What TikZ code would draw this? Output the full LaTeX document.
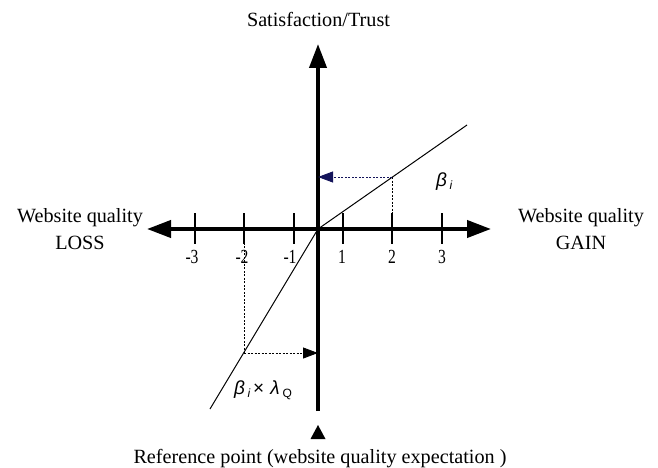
\documentclass[tikz,border=0pt]{standalone}
\usepackage{fontspec}
\setmainfont{Liberation Serif}
\newfontfamily\condfont[FakeStretch=0.78]{Liberation Serif}
\newfontfamily\grkfont{Liberation Sans}
\usetikzlibrary{arrows.meta}
\tikzset{
  axis/.style={line width=4pt},
  bigtip/.style={-{Triangle[length=24pt,width=17pt]}},
  tick/.style={line width=1.2pt},
  fline/.style={line width=1pt},
  guide/.style={line width=0.9pt, dash pattern=on 2pt off 1.5pt},
  smalltip/.style={-{Triangle[length=15pt,width=11pt]}},
  lbl/.style={font=\fontsize{20.2}{27}\selectfont, align=center, inner sep=0pt},
  ticklbl/.style={font=\condfont\fontsize{20}{21}\selectfont, inner sep=0pt},
  greek/.style={font=\grkfont\fontsize{19}{22}\selectfont, inner sep=0pt}
}
\newcommand{\subsc}[1]{\raisebox{-3pt}{\fontsize{12}{12}\selectfont #1}}
\begin{document}
\begin{tikzpicture}[x=1pt,y=-1pt]
\useasboundingbox (0,0) rectangle (658,468);
% key points
\coordinate (O) at (318,229);
\coordinate (Xl) at (147,229);
\coordinate (Xr) at (491,229);
\coordinate (Yt) at (318,44);
\coordinate (Yb) at (318,411);
\coordinate (Ptop) at (467,125);
\coordinate (Pbot) at (210,409);
\coordinate (Q2) at (392,177);
\coordinate (Q2y) at (318,177);
\coordinate (Q2x) at (392,229);
\coordinate (Qm2) at (244,353);
\coordinate (Qm2y) at (318,353);
\coordinate (Qm2x) at (244,229);
% axes
\draw[axis,bigtip] (O) -- (Xl);
\draw[axis,bigtip] (O) -- (Xr);
\draw[axis,bigtip] (Yb) -- (Yt);
% ticks
\foreach \xx in {195,244,294,343,392,442}{
  \draw[tick] (\xx,213) -- (\xx,244);
}
\node[ticklbl] (tm3) at (192,257) {-3};
\node[ticklbl] (tm2) at (242,257) {-2};
\node[ticklbl] (tm1) at (290,257) {-1};
\node[ticklbl] (t1) at (342,257) {1};
\node[ticklbl] (t2) at (392,257) {2};
\node[ticklbl] (t3) at (442,257) {3};
% value function
\draw[fline] (Pbot) -- (O) -- (Ptop);
% guides
\draw[guide, draw={rgb,255:red,20;green,20;blue,90}, smalltip] (Q2) -- (Q2y);
\draw[guide] (Q2) -- (Q2x);
\draw[guide, smalltip] (Qm2) -- (Qm2y);
\draw[guide] (Qm2) -- (Qm2x);
% bottom triangle
\fill (310.5,439) -- (325.5,439) -- (318,425) -- cycle;
% labels
\node[lbl] (ytitle) at (318.5,19) {Satisfaction/Trust};
\node[lbl] (loss) at (80,229) {Website quality\\LOSS};
\node[lbl] (gain) at (581,229) {Website quality\\GAIN};
\node[lbl] (ref) at (320,459) {Reference point (website quality expectation )};
\node[greek, anchor=west] (beta) at (436,182) {\itshape β\hspace{2.5pt}\subsc{i}};
\node[greek, anchor=west] (betalam) at (234,390) {\itshape β\hspace{2.5pt}\subsc{i}\upshape\hspace{3pt}×\hspace{6pt}\itshape λ\hspace{3pt}\subsc{\upshape Q}};
\end{tikzpicture}
\end{document}
